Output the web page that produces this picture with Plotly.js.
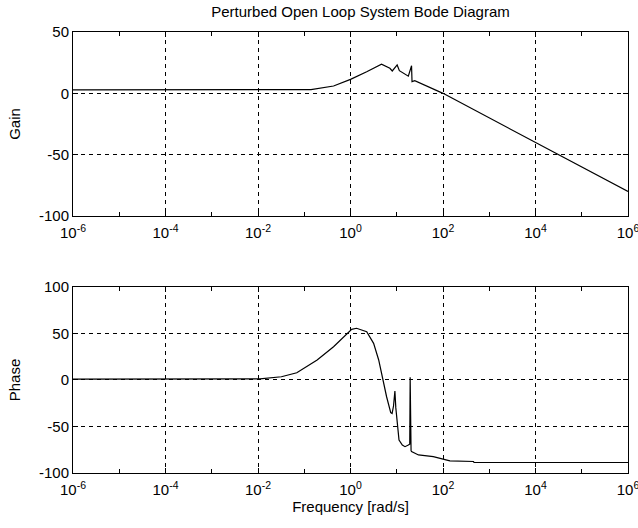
<!DOCTYPE html>
<html>
<head>
<meta charset="utf-8">
<script src="https://cdn.plot.ly/plotly-3.0.1.min.js"></script>
<style>html,body{margin:0;padding:0;background:#fff;}#chart{width:638px;height:528px;}</style>
</head>
<body>
<div id="chart"></div>
<script>
// Gain (dB) vs frequency (rad/s)
const gainFreq = [1e-6, 1e-3, 1e-2, 0.1, 0.14, 0.43, 1, 2.24, 4.68, 7.1, 8, 10.2, 11.4, 17.8, 20.9, 21.4, 24.5, 100, 1e3, 1e4, 1e5, 1e6];
const gainDb   = [2.8, 2.8, 2.8, 2.9, 3.0, 6.0, 11.4, 17.6, 23.7, 20.4, 18.2, 23.1, 18.5, 14.0, 22.5, 9.5, 10.3, 0.0, -20, -40, -60, -80];

// Phase (deg) vs frequency (rad/s)
const phaseFreq = [1e-6, 1e-2, 0.011, 0.032, 0.069, 0.19, 0.43, 1.06, 1.35, 2.24, 3.16, 4.07, 5.01, 6.03, 7.41, 7.94, 8.51, 9.12, 9.55, 10.2, 11.2, 13.2, 15.1, 17.8, 19.1, 19.5, 19.9, 20.2, 20.4, 20.9, 29.5, 61.7, 100, 141, 457, 468, 1e6];
const phaseDeg  = [1, 1, 1.2, 3.5, 7.8, 21.5, 35.8, 54.5, 55.6, 52, 39.4, 21.5, 0, -18, -35, -36, -28, -12, -30, -43, -64.5, -70, -71.7, -70, -69, 3, -74, -20, -76, -77, -80.6, -82.4, -85, -87, -87.6, -88.7, -88.7];

const xTickVals = [1e-6, 1e-4, 1e-2, 1, 1e2, 1e4, 1e6];
const xTickText = ['10<sup>-6</sup>', '10<sup>-4</sup>', '10<sup>-2</sup>', '10<sup>0</sup>', '10<sup>2</sup>', '10<sup>4</sup>', '10<sup>6</sup>'];
const xMinorVals = [1e-5, 1e-3, 1e-1, 1e1, 1e3, 1e5];
const gainTicks = [-100, -50, 0, 50];
const gainTickText = ['-100', '-50', '0', '50'];
const phaseTicks = [-100, -50, 0, 50, 100];
const phaseTickText = ['-100', '-50', '0', '50', '100'];

const FONT = {family: 'Liberation Sans, Arial, sans-serif', size: 15, color: '#000'};

function xAxis(anchor, withTitle) {
  const ax = {
    type: 'log', range: [-6, 6.0001], anchor: anchor,
    tickmode: 'array', tickvals: xTickVals, ticktext: xTickText,
    ticks: 'inside', ticklen: 5, tickcolor: '#000', tickwidth: 1,
    showline: true, linecolor: '#000', linewidth: 1, mirror: 'ticks',
    showgrid: true, gridcolor: '#000', gridwidth: 1, griddash: '4px,4px',
    minor: {tickmode: 'array', tickvals: xMinorVals, ticks: 'inside', ticklen: 4, tickcolor: '#000', showgrid: false},
    zeroline: false, tickfont: FONT, fixedrange: true,
    ticklabeloverflow: 'allow', ticklabelstandoff: 3
  };
  if (withTitle) ax.title = {text: 'Frequency [rad/s]', font: FONT, standoff: 4};
  return ax;
}
function yAxis(domain, range, ticks, labels, title) {
  return {
    domain: domain, range: range, tickmode: 'array', tickvals: ticks, ticktext: labels,
    ticks: 'inside', ticklen: 5, tickcolor: '#000',
    showline: true, linecolor: '#000', linewidth: 1, mirror: 'ticks',
    showgrid: true, gridcolor: '#000', gridwidth: 1, griddash: '4px,4px',
    zeroline: false, tickfont: FONT, fixedrange: true,
    title: {text: title, font: FONT, standoff: 14}
  };
}

const traces = [
  {x: gainFreq, y: gainDb, xaxis: 'x', yaxis: 'y', mode: 'lines', line: {color: '#000', width: 1.2}, hoverinfo: 'none'},
  {x: phaseFreq, y: phaseDeg, xaxis: 'x2', yaxis: 'y2', mode: 'lines', line: {color: '#000', width: 1.2}, hoverinfo: 'none'}
];

const layout = {
  width: 638, height: 528,
  margin: {l: 73, r: 10, t: 32, b: 55},
  paper_bgcolor: '#fff', plot_bgcolor: '#fff',
  showlegend: false, font: FONT,
  title: {text: 'Perturbed Open Loop System Bode Diagram', font: FONT, x: 0.565, xanchor: 'center', y: 0.988, yanchor: 'top'},
  xaxis: xAxis('y', false),
  yaxis: yAxis([0.5828, 1], [-100, 50], gainTicks, gainTickText, 'Gain'),
  xaxis2: xAxis('y2', true),
  yaxis2: yAxis([0, 0.4218], [-100, 100], phaseTicks, phaseTickText, 'Phase')
};

Plotly.newPlot('chart', traces, layout, {staticPlot: true, displayModeBar: false});
</script>
</body>
</html>
